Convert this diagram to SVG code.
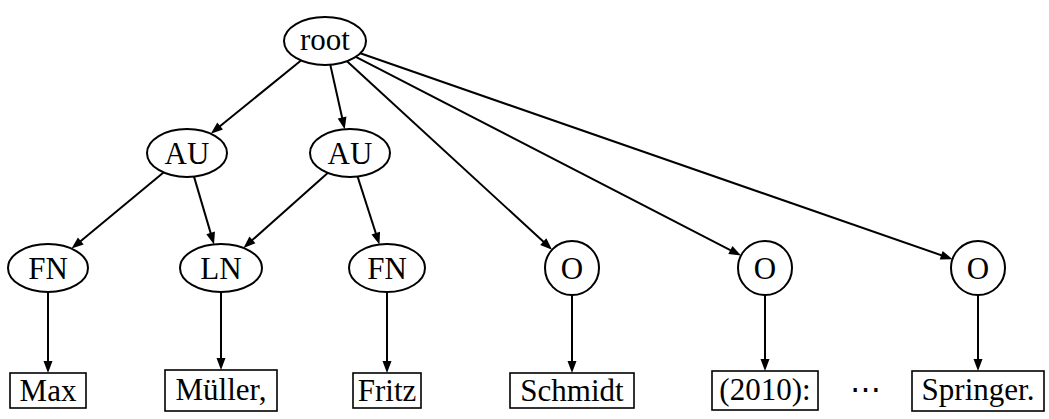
<svg xmlns="http://www.w3.org/2000/svg" width="1049" height="419" viewBox="0 0 1049 419">
  <style>
    .node { fill: #ffffff; stroke: #000000; stroke-width: 2; }
    .leaf { fill: #ffffff; stroke: #000000; stroke-width: 1.6; }
    .lbl { font-family: "Liberation Serif", "DejaVu Serif", serif; font-size: 31px; fill: #000000; text-anchor: middle; }
    .edge { stroke: #000000; stroke-width: 2; fill: none; marker-end: url(#tip); }
  </style>
  <defs>
    <!-- filled triangular arrow tip, tip point 5px past the line end -->
    <marker id="tip" markerUnits="userSpaceOnUse" markerWidth="13" markerHeight="10" refX="7" refY="4.5" orient="auto" overflow="visible">
      <path d="M0,0 L12,4.5 L0,9 z" fill="#000000"/>
    </marker>
  </defs>

  <rect width="1049" height="419" fill="#ffffff"/>

  <!-- connectors -->
  <g id="edges">
    <line class="edge" x1="301.0" y1="60.5" x2="214.7" y2="130.5"/>
    <line class="edge" x1="330.3" y1="64.8" x2="343.6" y2="124.3"/>
    <line class="edge" x1="347.0" y1="61.2" x2="548.4" y2="246.3"/>
    <line class="edge" x1="355.8" y1="56.9" x2="736.6" y2="253.3"/>
    <line class="edge" x1="360.3" y1="53.3" x2="947.8" y2="257.5"/>
    <line class="edge" x1="163.5" y1="172.4" x2="75.4" y2="245.4"/>
    <line class="edge" x1="194.0" y1="176.6" x2="212.6" y2="239.6"/>
    <line class="edge" x1="327.7" y1="172.9" x2="247.2" y2="244.6"/>
    <line class="edge" x1="357.6" y1="176.6" x2="377.9" y2="239.7"/>
    <line class="edge" x1="48" y1="292" x2="48" y2="368"/>
    <line class="edge" x1="221" y1="292" x2="221" y2="365"/>
    <line class="edge" x1="387" y1="292" x2="387" y2="368"/>
    <line class="edge" x1="572" y1="295" x2="572" y2="368"/>
    <line class="edge" x1="765" y1="295" x2="765" y2="366"/>
    <line class="edge" x1="978" y1="295" x2="978" y2="366"/>
  </g>

  <!-- inner nodes -->
  <g id="root">
    <ellipse class="node" cx="325" cy="41" rx="41" ry="24"/>
    <text class="lbl" x="325" y="50">root</text>
  </g>
  <g id="au1">
    <ellipse class="node" cx="187" cy="153" rx="40" ry="24"/>
    <text class="lbl" x="187" y="163.5">AU</text>
  </g>
  <g id="au2">
    <ellipse class="node" cx="350" cy="153" rx="40" ry="24"/>
    <text class="lbl" x="350" y="163.5">AU</text>
  </g>
  <g id="fn1">
    <ellipse class="node" cx="48" cy="268" rx="40" ry="24"/>
    <text class="lbl" x="48" y="278.5">FN</text>
  </g>
  <g id="ln">
    <ellipse class="node" cx="221" cy="268" rx="41" ry="24"/>
    <text class="lbl" x="221" y="278.5">LN</text>
  </g>
  <g id="fn2">
    <ellipse class="node" cx="387" cy="268" rx="38" ry="24"/>
    <text class="lbl" x="387" y="278.5">FN</text>
  </g>
  <g id="o1">
    <circle class="node" cx="572" cy="268" r="27"/>
    <text class="lbl" x="572" y="278.5">O</text>
  </g>
  <g id="o2">
    <circle class="node" cx="765" cy="268" r="27"/>
    <text class="lbl" x="765" y="278.5">O</text>
  </g>
  <g id="o3">
    <circle class="node" cx="978" cy="268" r="27"/>
    <text class="lbl" x="978" y="278.5">O</text>
  </g>

  <!-- leaf tokens -->
  <g id="max">
    <rect class="leaf" x="10" y="373" width="76" height="35"/>
    <text class="lbl" x="48" y="401">Max</text>
  </g>
  <g id="mueller">
    <rect class="leaf" x="165" y="370" width="112" height="41"/>
    <text class="lbl" x="221" y="400">Müller,</text>
  </g>
  <g id="fritz">
    <rect class="leaf" x="353" y="373" width="68" height="35"/>
    <text class="lbl" x="387" y="401">Fritz</text>
  </g>
  <g id="schmidt">
    <rect class="leaf" x="510" y="373" width="124" height="35"/>
    <text class="lbl" x="572" y="401">Schmidt</text>
  </g>
  <g id="year">
    <rect class="leaf" x="712" y="371" width="106" height="39"/>
    <text class="lbl" x="765" y="400">(2010):</text>
  </g>
  <g id="dots">
    <text class="lbl" x="865" y="400">⋯</text>
  </g>
  <g id="springer">
    <rect class="leaf" x="912" y="371" width="132" height="40"/>
    <text class="lbl" x="978" y="400">Springer.</text>
  </g>
</svg>
